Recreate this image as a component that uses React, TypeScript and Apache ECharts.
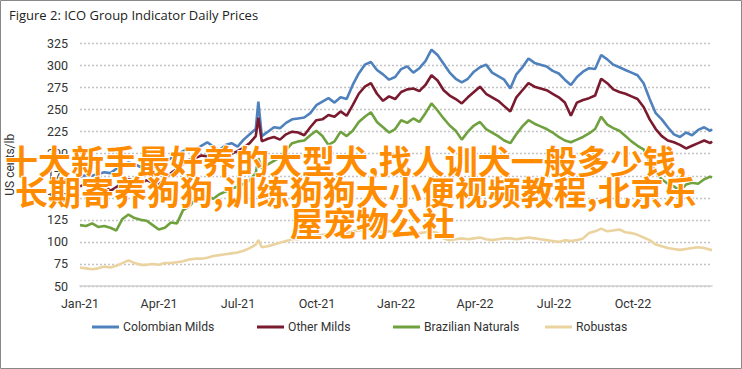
import React, { useEffect, useRef } from "react";
import * as echarts from "echarts";

const TITLE = "Figure 2: ICO Group Indicator Daily Prices";
const Y_NAME = "US cents/lb";
const X_TICK_LABELS = ["Jan-21", "Apr-21", "Jul-21", "Oct-21", "Jan-22", "Apr-22", "Jul-22", "Oct-22", ""];
const SERIES_NAMES = ["Colombian Milds", "Other Milds", "Brazilian Naturals", "Robustas"];
const OVERLAY_LINES = [
  "十大新手最好养的大型犬,找人训犬一般多少钱,",
  "长期寄养狗狗,训练狗狗大小便视频教程,北京乐",
  "屋宠物公社",
];

// sample days since 1 Jan 2021: weekly, plus the late-July spike day and the final day
const WEEKLY_DAYS = Array.from({ length: 105 }, (_, i) => i * 7);
const SAMPLE_DAYS = [...WEEKLY_DAYS.slice(0, 30), 206, ...WEEKLY_DAYS.slice(30), 730];

const colombianMilds = [
  174, 176, 175, 177, 179, 178, 183, 187, 190, 188,
  185, 189, 186, 184, 190, 195, 198, 203, 206, 204,
  209, 213, 208, 204, 210, 212, 208, 216, 222, 228,
  259,
  220, 225, 230, 229, 235, 239, 240, 241, 246, 255,
  259, 263, 258, 264, 262, 278, 291, 301, 304, 295,
  290, 284, 287, 296, 299, 292, 297, 305, 318, 312,
  302, 292, 285, 281, 285, 293, 298, 301, 292, 288,
  284, 274, 290, 298, 308, 303, 301, 299, 294, 291,
  284, 278, 287, 293, 297, 296, 312, 307, 301, 298,
  295, 292, 289, 280, 262, 246, 239, 230, 222, 219,
  224, 221, 227, 230, 226,
  228,
];

const otherMilds = [
  163, 165, 163, 161, 164, 158, 162, 168, 171, 169,
  166, 170, 167, 165, 172, 178, 183, 188, 193, 195,
  198, 197, 195, 193, 197, 200, 203, 207, 212, 220,
  241,
  214, 217, 219, 216, 222, 225, 224, 221, 230, 238,
  239, 244, 242, 248, 243, 255, 268, 276, 280, 268,
  260, 265, 262, 270, 273, 274, 271, 278, 289, 283,
  272, 266, 262, 257, 264, 270, 276, 268, 264, 260,
  254, 248, 264, 272, 280, 276, 274, 272, 268, 264,
  258, 243, 258, 261, 263, 266, 285, 280, 273, 270,
  268, 265, 262, 253, 239, 228, 220, 215, 213, 210,
  206, 209, 212, 215, 212,
  214,
];

const brazilianNaturals = [
  119, 118, 121, 117, 118, 116, 113, 126, 131, 127,
  125, 124, 119, 114, 116, 122, 121, 136, 140, 148,
  150, 152, 149, 154, 157, 160, 163, 166, 170, 178,
  195,
  183, 188, 192, 196, 204, 212, 214, 215, 221, 226,
  220, 210, 214, 225, 220, 226, 236, 242, 247, 236,
  230, 224, 228, 238, 235, 240, 236, 246, 257, 249,
  240, 232, 226, 216, 225, 232, 236, 228, 224, 220,
  215, 212, 222, 231, 238, 234, 231, 228, 224, 219,
  215, 213, 216, 219, 223, 228, 242, 233, 229, 226,
  220, 214, 209, 205, 191, 179, 171, 166, 163, 158,
  165, 167, 166, 171, 174,
  173,
];

const robustas = [
  71, 70, 69, 70, 72, 71, 73, 76, 79, 76,
  74, 74, 75, 74, 76, 76, 77, 78, 80, 81,
  81, 82, 84, 85, 86, 87, 88, 90, 93, 97,
  102,
  94, 95, 97, 99, 101, 103, 103, 105, 106, 107,
  108, 109, 110, 111, 110, 112, 113, 114, 113, 112,
  111, 112, 111, 110, 109, 109, 110, 111, 112, 110,
  104, 102, 103, 104, 103, 104, 105, 103, 102, 103,
  104, 104, 103, 104, 105, 104, 103, 102, 101, 100,
  102, 101, 102, 104, 110, 112, 115, 112, 113, 114,
  111, 110, 108, 105, 102, 97, 95, 93, 92, 91,
  92, 93, 94, 93, 91,
  91,
];

const SERIES_VALUES = [colombianMilds, otherMilds, brazilianNaturals, robustas];
const COLORS = ["#4F81BD", "#7A1A2E", "#70A13F", "#EBD3A0"];
const LEGEND_LEFTS = [92, 257, 393, 545];

const AXIS_FONT = "Roboto, sans-serif";

export default function App() {
  const ref = useRef<HTMLDivElement>(null);
  useEffect(() => {
    document.body.style.margin = "0";
    if (!ref.current) return;
    const chart = echarts.init(ref.current, null, { renderer: "svg" });
    const series = SERIES_NAMES.map((name, k) => ({
      name,
      type: "line",
      showSymbol: false,
      symbol: "none",
      data: SAMPLE_DAYS.map((d, i) => [d, SERIES_VALUES[k][i]]),
      lineStyle: { color: COLORS[k], width: 2.6 },
      itemStyle: { color: COLORS[k] },
      z: 3,
    }));
    const legends = SERIES_NAMES.map((name, k) => ({
      data: [name],
      top: 321,
      left: LEGEND_LEFTS[k],
      padding: 0,
      icon: "rect",
      itemWidth: 27,
      itemHeight: 3,
      itemGap: 4,
      selectedMode: false,
      textStyle: { fontFamily: AXIS_FONT, fontSize: 12.2, color: "#333", padding: [0, 0, 0, -1] },
    }));
    chart.setOption({
      animation: false,
      backgroundColor: "#ffffff",
      title: {
        text: TITLE,
        left: 4,
        top: 3,
        textStyle: { fontFamily: "'Open Sans', sans-serif", fontSize: 13, fontWeight: "normal", color: "#222" },
      },
      grid: { left: 80, right: 30, top: 43.5, bottom: 83, containLabel: false, outerBoundsMode: "none" },
      xAxis: {
        type: "value",
        min: 0,
        max: 730,
        interval: 91.25,
        axisLine: { show: true, lineStyle: { color: "#d0d0d0", width: 1.5 } },
        axisTick: { show: false },
        splitLine: { show: false },
        axisLabel: {
          margin: 11,
          fontFamily: AXIS_FONT,
          fontSize: 12.5,
          color: "#333",
          formatter: (v: number) => X_TICK_LABELS[Math.round(v / 91.25)] ?? "",
        },
      },
      yAxis: {
        type: "value",
        min: 50,
        max: 325,
        interval: 25,
        name: Y_NAME,
        nameLocation: "middle",
        nameGap: 64,
        nameMoveOverlap: false,
        nameTextStyle: { fontFamily: AXIS_FONT, fontSize: 12, color: "#333" },
        axisLine: { show: false },
        axisTick: { show: false },
        splitLine: { lineStyle: { color: "#c4c4c4", type: [2, 2], width: 1.4 } },
        axisLabel: { margin: 12, fontFamily: AXIS_FONT, fontSize: 12.5, color: "#333" },
      },
      legend: legends,
      series,
      graphic: [
        {
          type: "rect",
          shape: { x: 0.5, y: 0.5, width: 741, height: 368 },
          style: { fill: "none", stroke: "#888", lineWidth: 1 },
          silent: true,
          z: 100,
        },
        ...OVERLAY_LINES.map((t, i) => ({
          type: "text",
          x: [5, 15, 290][i],
          y: [160, 191, 222][i],
          z: 50,
          silent: true,
          style: {
            text: t,
            fontFamily: "'Noto Sans CJK SC', sans-serif",
            fontSize: 33,
            fontWeight: "bold",
            fill: "#FF8C00",
            stroke: "#ffffff",
            lineWidth: 2,
            textVerticalAlign: "middle",
            textAlign: "left",
          },
        })),
      ],
    });
    return () => chart.dispose();
  }, []);
  return <div ref={ref} style={{ width: 742, height: 369 }} />;
}
